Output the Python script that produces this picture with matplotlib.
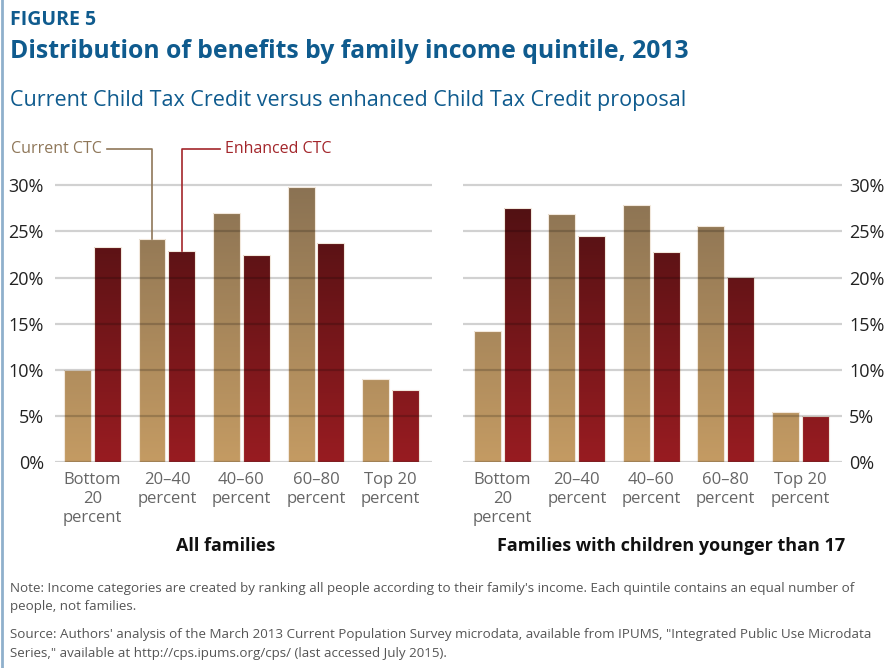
import numpy as np
import matplotlib
matplotlib.use("Agg")
import matplotlib.pyplot as plt
from matplotlib.colors import LinearSegmentedColormap
from matplotlib.lines import Line2D

W, H = 885, 668

categories = ["Bottom\n20\npercent", "20\u201340\npercent", "40\u201360\npercent",
              "60\u201380\npercent", "Top 20\npercent"]
all_current = [10.0, 24.2, 27.0, 29.8, 9.0]
all_enhanced = [23.3, 22.9, 22.4, 23.7, 7.8]
kids_current = [14.2, 26.9, 27.9, 25.6, 5.4]
kids_enhanced = [27.5, 24.5, 22.8, 20.1, 5.0]
yticks = [0, 5, 10, 15, 20, 25, 30]

BLUE = "#0f5b8e"
cmap_cur = LinearSegmentedColormap.from_list("cur", ["#c49b63", "#8a7253"])
cmap_enh = LinearSegmentedColormap.from_list("enh", ["#981c21", "#4c1012"])

plt.rcParams["font.family"] = ["Open Sans", "DejaVu Sans"]


def px(x, y):
    return x / W, 1 - y / H


def ax_rect(x0, x1, y_top, y_bot):
    return [x0 / W, 1 - y_bot / H, (x1 - x0) / W, (y_bot - y_top) / H]


def gradient_bars(ax, xs, vals, cmap):
    bars = ax.bar(xs, vals, width=0.362, color="none", edgecolor="#f2e8dc",
                  linewidth=0.8, zorder=2)
    for b, v in zip(bars, vals):
        grad = np.linspace(0, v / 30.0, 200).reshape(-1, 1)
        im = ax.imshow(grad, cmap=cmap, vmin=0, vmax=1, origin="lower",
                       aspect="auto", interpolation="bicubic",
                       extent=[b.get_x(), b.get_x() + b.get_width(), 0, v],
                       zorder=1)
        im.set_clip_path(b)
    return bars


def panel(ax, cur, enh, side):
    x = np.arange(len(categories))
    gradient_bars(ax, x - 0.201, cur, cmap_cur)
    gradient_bars(ax, x + 0.201, enh, cmap_enh)
    for t in yticks:
        ax.axhline(t, color="#000000", alpha=0.18, lw=1.6, zorder=3)
    ax.set_ylim(0, 30.3)
    ax.set_yticks(yticks)
    ax.set_yticklabels([f"{t}%" for t in yticks])
    ax.set_xticks(x)
    ax.set_xticklabels(categories, color="#666666", fontsize=12,
                       linespacing=1.25)
    for s in ax.spines.values():
        s.set_visible(False)
    ax.tick_params(axis="x", length=0, pad=7)
    ax.tick_params(axis="y", length=0, labelsize=13, colors="#222222")
    if side == "right":
        ax.yaxis.tick_right()
        ax.tick_params(axis="y", pad=5)
    else:
        ax.tick_params(axis="y", pad=8)


fig = plt.figure(figsize=(W / 100, H / 100), dpi=100)

ax1 = fig.add_axes(ax_rect(55, 432, 182.5, 462.3))
ax1.set_xlim(-0.503, 4.557)
panel(ax1, all_current, all_enhanced, "left")

ax2 = fig.add_axes(ax_rect(463, 842, 182.5, 462.3))
ax2.set_xlim(-0.531, 4.563)
panel(ax2, kids_current, kids_enhanced, "right")

# legend callouts
ly = 33.9
ax1.plot([0.195, 1 - 0.201, 1 - 0.201], [ly, ly, all_current[1]],
         color="#8f7759", lw=1.2, clip_on=False, zorder=4)
ax1.text(0.12, ly, "Current CTC", color="#8f7759", fontsize=11.5,
         ha="right", va="center")
ax1.plot([1.71, 1 + 0.201, 1 + 0.201], [ly, ly, all_enhanced[1]],
         color="#a3262b", lw=1.2, clip_on=False, zorder=4)
ax1.text(1.775, ly, "Enhanced CTC", color="#a3262b", fontsize=11.5,
         ha="left", va="center")

# titles
fig.text(*px(10, 25), "FIGURE 5", color=BLUE, fontsize=14, fontweight="bold",
         va="baseline")
fig.text(*px(10, 58), "Distribution of benefits by family income quintile, 2013",
         color=BLUE, fontsize=17.8, fontweight="bold", va="baseline")
fig.text(*px(10, 106), "Current Child Tax Credit versus enhanced Child Tax Credit proposal",
         color=BLUE, fontsize=15.5, va="baseline")

fig.text(*px(226, 551), "All families", fontsize=13, fontweight="bold",
         ha="center", va="baseline", color="#111111")
fig.text(*px(671, 551), "Families with children younger than 17", fontsize=13,
         fontweight="bold", ha="center", va="baseline", color="#111111")

note = ("Note: Income categories are created by ranking all people according to their "
        "family's income. Each quintile contains an equal number of")
fig.text(*px(10, 592), note, fontsize=9.65, color="#555555", va="baseline")
fig.text(*px(10, 610), "people, not families.", fontsize=9.65, color="#555555",
         va="baseline")
src = ("Source: Authors' analysis of the March 2013 Current Population Survey microdata, "
       "available from IPUMS, \"Integrated Public Use Microdata")
fig.text(*px(10, 638), src, fontsize=9.65, color="#555555", va="baseline")
fig.text(*px(10, 657), "Series,\" available at http://cps.ipums.org/cps/ "
         "(last accessed July 2015).", fontsize=9.65, color="#555555", va="baseline")

# left border stripe
fig.add_artist(Line2D([1.5 / W, 1.5 / W], [0, 1], color="#8fb0cc", lw=2,
                      transform=fig.transFigure))

fig.savefig("out.png", dpi=100)
